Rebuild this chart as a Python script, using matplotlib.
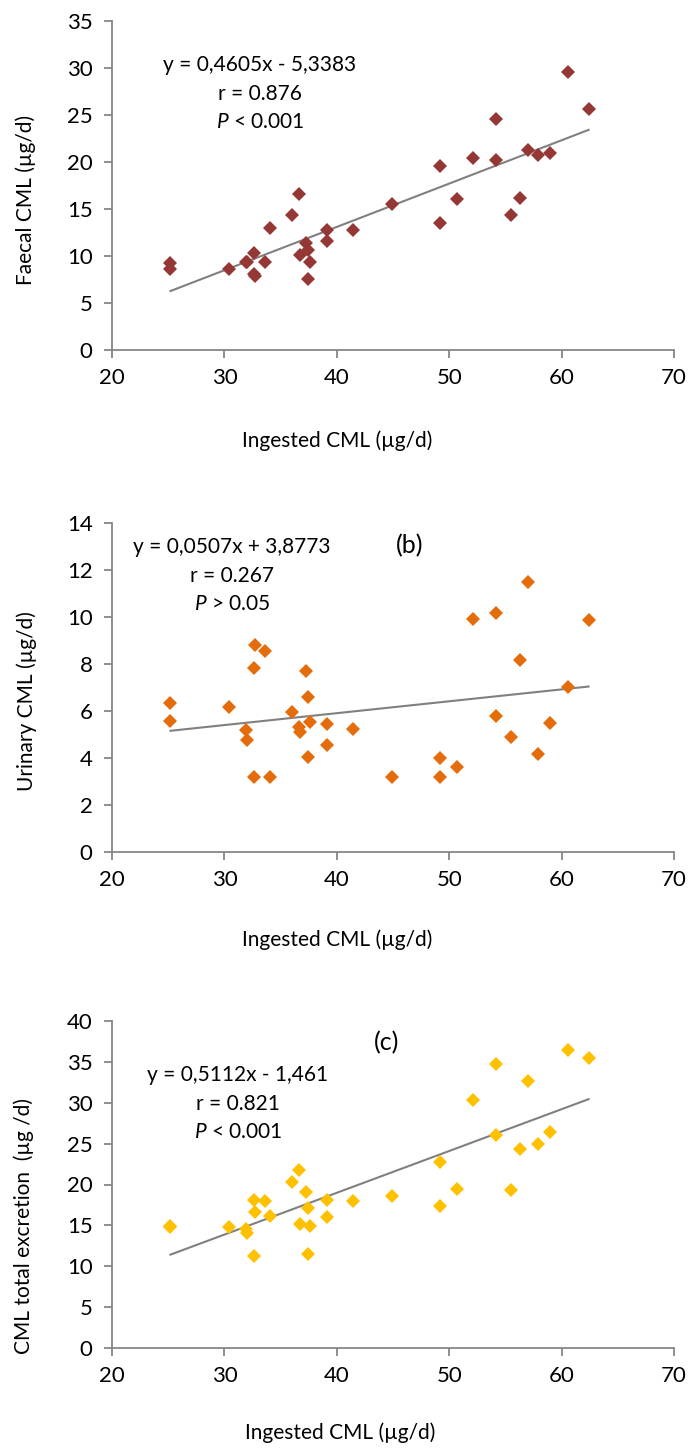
import matplotlib
matplotlib.use("Agg")
import matplotlib.pyplot as plt
import numpy as np

plt.rcParams['font.family'] = ['Lato', 'DejaVu Sans']
plt.rcParams['mathtext.fontset'] = 'custom'
plt.rcParams['mathtext.it'] = 'Lato:italic'
plt.rcParams['mathtext.rm'] = 'Lato'

# ---- data ----
ingested = [25.2, 25.2, 30.4, 31.9, 32.0, 32.6, 32.65, 32.75, 33.6, 34.1,
            36.0, 36.6, 36.7, 37.25, 37.45, 37.6, 37.45, 39.1, 39.1, 41.4,
            44.9, 49.2, 49.2, 50.7, 52.1, 54.2, 54.2, 55.5, 56.3, 57.0,
            57.9, 59.0, 60.6, 62.4]
faecal = [9.21, 8.57, 8.64, 9.35, 9.4, 10.27, 8.08, 7.83, 9.39, 13.0,
          14.38, 16.54, 10.1, 11.4, 10.63, 9.39, 7.51, 12.75, 11.6, 12.75,
          15.5, 19.6, 13.46, 16.0, 20.4, 24.5, 20.2, 14.4, 16.2, 21.25,
          20.7, 20.9, 29.5, 25.6]
urinary = [5.56, 6.33, 6.17, 5.19, 4.76, 7.85, 3.17, 8.8, 8.56, 3.2,
           5.97, 5.3, 5.12, 7.69, 6.61, 5.54, 4.02, 5.46, 4.55, 5.22,
           3.17, 3.19, 3.98, 3.61, 9.94, 10.18, 5.8, 4.88, 8.16, 11.5,
           4.18, 5.47, 7.04, 9.89]
total = [14.8, 14.9, 14.8, 14.5, 14.1, 18.1, 11.25, 16.6, 18.0, 16.1,
         20.3, 21.8, 15.2, 19.1, 17.1, 14.9, 11.5, 18.1, 16.0, 18.0,
         18.6, 22.8, 17.4, 19.5, 30.3, 34.7, 26.0, 19.3, 24.3, 32.7,
         24.9, 26.4, 36.5, 35.5]

slopes = [0.4605, 0.0507, 0.5112]
intercepts = [-5.3383, 3.8773, -1.461]
eq_texts = ["y = 0,4605x - 5,3383", "y = 0,0507x + 3,8773", "y = 0,5112x - 1,461"]
r_texts = ["r = 0.876", "r = 0.267", "r = 0.821"]
p_texts = ["$P$ < 0.001", "$P$ > 0.05", "$P$ < 0.001"]
panel_tags = [None, "(b)", "(c)"]
ylabels = ["Faecal CML (µg/d)", "Urinary CML (µg/d)", "CML total excretion  (µg /d)"]
xlabel = "Ingested CML (µg/d)"
ymaxes = [35, 14, 40]
ysteps = [5, 2, 5]
xticks = [20, 30, 40, 50, 60, 70]
colors = ["#953735", "#E46C0A", "#FFC000"]
series = [faecal, urinary, total]

W, H = 691, 1452
fig = plt.figure(figsize=(W / 100, H / 100), dpi=100)

# pixel layout: (top, bottom) of each plot area
boxes = [(20.7, 350.0), (523.3, 851.7), (1021.0, 1348.0)]
x_left, x_right = 112.0, 674.0
eq_pos = [(260, 65), (232, 547), (238, 1075)]
tag_pos = [None, (410, 546), (387, 1043)]
ylab_pos = [(26, 200), (27, 701), (24, 1226)]
xlab_pos = [(337, 441), (337, 940), (340, 1433)]

axis_col = "#868686"
fs = 15
tfs = 16

for i in range(3):
    top, bot = boxes[i]
    ax = fig.add_axes([x_left / W, 1 - bot / H, (x_right - x_left) / W, (bot - top) / H])
    ax.set_xlim(20, 70)
    ax.set_ylim(0, ymaxes[i])
    ax.set_xticks(xticks)
    ax.set_yticks(np.arange(0, ymaxes[i] + 0.001, ysteps[i]))
    for s in ["top", "right"]:
        ax.spines[s].set_visible(False)
    for s in ["left", "bottom"]:
        ax.spines[s].set_color(axis_col)
        ax.spines[s].set_linewidth(1.3)
    ax.tick_params(axis="both", color=axis_col, width=1.3, length=6, labelsize=tfs)
    ax.tick_params(axis="x", pad=7)
    ax.tick_params(axis="y", pad=8)
    ax.patch.set_alpha(0)

    xs = np.array(ingested)
    xl = np.array([xs.min(), xs.max()])
    ax.plot(xl, slopes[i] * xl + intercepts[i], color="#808080", lw=1.5, zorder=2)
    ax.plot(xs, series[i], linestyle="none", marker="D", ms=7.5, color=colors[i],
            markeredgewidth=0, zorder=3, clip_on=False)

    ex, ey = eq_pos[i]
    fig.text(ex / W, 1 - ey / H, eq_texts[i], ha="center", va="center", fontsize=fs)
    fig.text(ex / W, 1 - (ey + 28.5) / H, r_texts[i], ha="center", va="center", fontsize=fs)
    fig.text(ex / W, 1 - (ey + 57) / H, p_texts[i], ha="center", va="center", fontsize=fs)
    if panel_tags[i]:
        tx, ty = tag_pos[i]
        fig.text(tx / W, 1 - ty / H, panel_tags[i], ha="center", va="center", fontsize=fs + 3)
    lx, ly = ylab_pos[i]
    fig.text(lx / W, 1 - ly / H, ylabels[i], ha="center", va="center", rotation=90, fontsize=fs)
    qx, qy = xlab_pos[i]
    fig.text(qx / W, 1 - qy / H, xlabel, ha="center", va="center", fontsize=fs)

fig.savefig("out.png", dpi=100)
